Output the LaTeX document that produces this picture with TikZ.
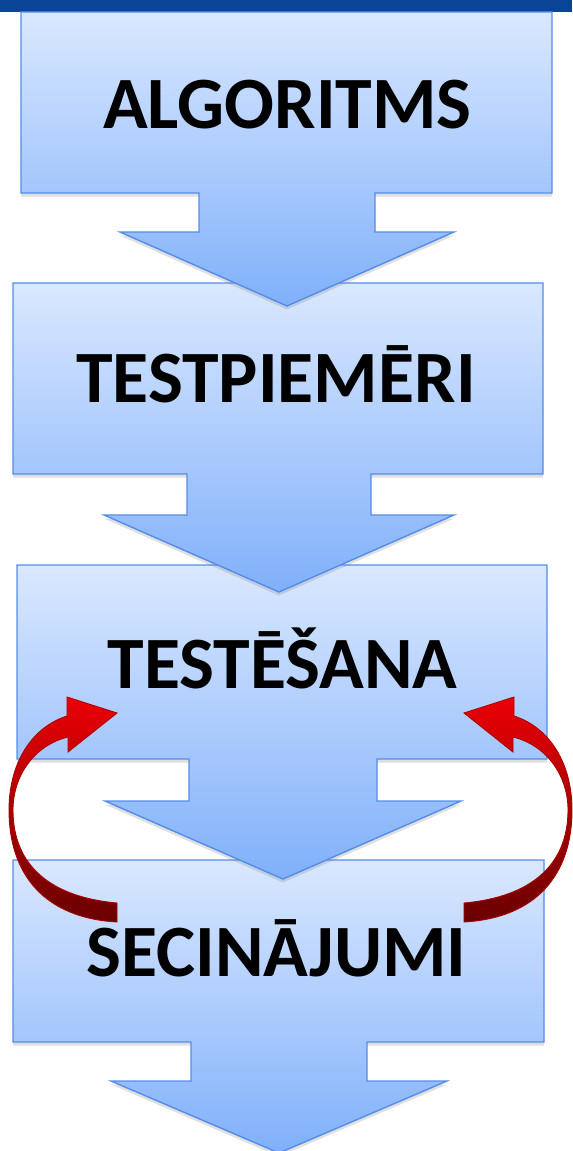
\documentclass[tikz,border=0pt]{standalone}
\usepackage{fontspec}
\setmainfont{Carlito}
\usepackage{xcolor}
\usepackage{tikz}
\usetikzlibrary{shadows}
\definecolor{topbar}{RGB}{10,68,150}
\definecolor{paleblue}{RGB}{218,232,255}
\definecolor{deepblue}{RGB}{128,176,250}
\definecolor{edgeblue}{RGB}{84,141,234}
\definecolor{brightred}{RGB}{235,0,5}
\definecolor{darkred}{RGB}{105,0,0}
\definecolor{rededge}{RGB}{170,0,0}

\begin{document}
\begin{tikzpicture}[x=0.02cm, y=-0.02cm,
    callout/.style={draw=edgeblue, line width=0.8pt, top color=paleblue, bottom color=deepblue,
      drop shadow={shadow xshift=0pt, shadow yshift=-2pt, opacity=0.25}},
    steplabel/.style={anchor=base, inner sep=0pt, font=\fontsize{42pt}{50pt}\selectfont\bfseries},
    loopback/.style={draw=rededge, line width=0.5pt, top color=brightred, bottom color=darkred}]
    \useasboundingbox (0,0) rectangle (572,1151);
    \fill[topbar] (0,0) rectangle (572,12);
    % the four steps, last one first so every arrow lies over the next box
    \path[callout] (13,860) -- (544,860) -- (544,1042) -- (367,1042) -- (367,1081) -- (447,1081) -- (279,1153) -- (111,1081) -- (191,1081) -- (191,1042) -- (13,1042) -- cycle;
    \path[callout] (17,565) -- (547,565) -- (547,759) -- (377,759) -- (377,801) -- (461,801) -- (283,879) -- (105,801) -- (189,801) -- (189,759) -- (17,759) -- cycle;
    \path[callout] (13,283) -- (543,283) -- (543,474) -- (371,474) -- (371,515) -- (454,515) -- (279,592) -- (104,515) -- (187,515) -- (187,474) -- (13,474) -- cycle;
    \path[callout] (21,12) -- (552,12) -- (552,193) -- (375,193) -- (375,232) -- (454,232) -- (287,306) -- (120,232) -- (199,232) -- (199,193) -- (21,193) -- cycle;
    \node[steplabel] (algoritms) at (287.5,129) {ALGORITMS};
    \node[steplabel] (testpiemeri) at (276,403) {TESTPIEMĒRI};
    \node[steplabel] (testesana) at (282.5,688) {TESTĒŠANA};
    \node[steplabel] (secinajumi) at (276.5,976) {SECINĀJUMI};
    % curved arrows back from the conclusions to the testing
    \path[loopback] (117,922) -- (117,903) .. controls (50,897) and (13,865) .. (13,810)
      .. controls (13,775) and (35,745) .. (68,737) -- (68,752) -- (117,713) -- (67,697) -- (67,716)
      .. controls (30,728) and (9,765) .. (9,810) .. controls (9,875) and (45,918) .. (117,922) -- cycle;
    \begin{scope}[shift={(581,0)}, xscale=-1]
    \path[loopback] (117,922) -- (117,903) .. controls (50,897) and (13,865) .. (13,810)
      .. controls (13,775) and (35,745) .. (68,737) -- (68,752) -- (117,713) -- (67,697) -- (67,716)
      .. controls (30,728) and (9,765) .. (9,810) .. controls (9,875) and (45,918) .. (117,922) -- cycle;
    \end{scope}
\end{tikzpicture}
\end{document}
